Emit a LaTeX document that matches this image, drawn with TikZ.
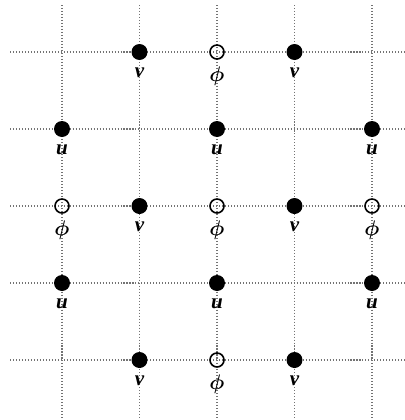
\documentclass[tikz,border=0pt]{standalone}
\usepackage{bm}
\usepackage{fontspec}
\newfontfamily\lblfont{Liberation Serif}
\usetikzlibrary{positioning}

\begin{document}
\begin{tikzpicture}[
                x=0.02cm, y=-0.02cm,
                gridline/.style={dash pattern=on 0.6pt off 1.1pt, color=black!55, line width=0.6pt},
                full/.style={circle, fill=black, inner sep=0pt, minimum size=0.32cm},
                hollow/.style={circle, draw=black, line width=0.9pt,
                    inner sep=0pt, minimum size=0.28cm},
                lbl/.style={font=\lblfont\large\bfseries\itshape, inner sep=1pt}
                ]
                \useasboundingbox (0,0) rectangle (405,420);
                % dotted grid
                \foreach \i in {0,...,4} {
                    \draw[gridline] (62+77.5*\i,5) -- (62+77.5*\i,420);
                    \draw[gridline] (10,52+77*\i) -- (405,52+77*\i);
                }
                % filled points: u and v
                \foreach \c/\r/\t in {1/0/v, 3/0/v, 0/1/u, 2/1/u, 4/1/u, 1/2/v, 3/2/v,
                        0/3/u, 2/3/u, 4/3/u, 1/4/v, 3/4/v} {
                    \node[full] (\t\c\r) at (62+77.5*\c, 52+77*\r) {};
                    \node[lbl, below=0.1cm of \t\c\r] (\t\c\r-l) {\t};
                }
                % open points: phi
                \foreach \c/\r in {2/0, 0/2, 2/2, 4/2, 2/4} {
                    \node[hollow] (phi\c\r) at (62+77.5*\c, 52+77*\r) {};
                    \node[lbl, below=0.1cm of phi\c\r] (phi\c\r-l) {$\bm{\phi}$};
                }
            \end{tikzpicture}
\end{document}
